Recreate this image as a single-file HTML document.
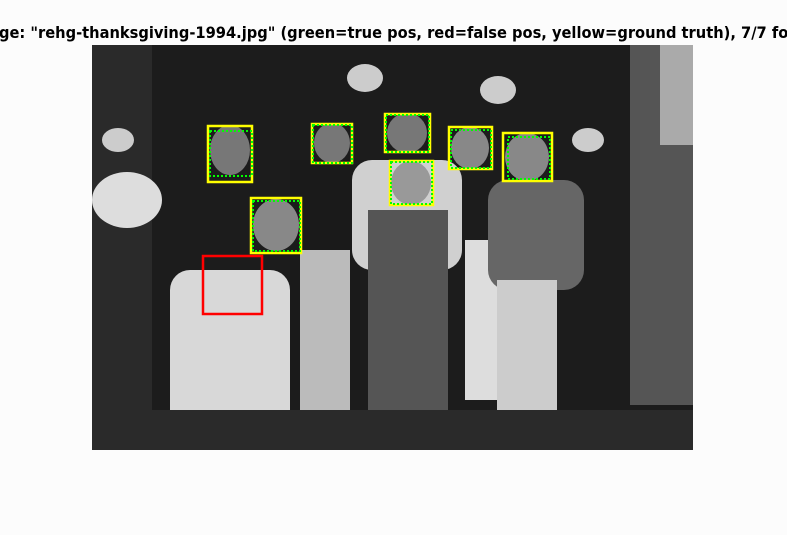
<!DOCTYPE html>
<html><head><meta charset="utf-8"><style>
body{margin:0;background:#fcfcfc;width:787px;height:535px;overflow:hidden;position:relative;font-family:"Liberation Sans","DejaVu Sans",sans-serif}
#title{position:absolute;left:394px;top:23px;transform:translateX(-50%);white-space:nowrap;font-weight:bold;font-size:16.3px;color:#000;font-family:"DejaVu Sans Condensed","DejaVu Sans",sans-serif}
</style></head><body>
<div id="title">Image: "rehg-thanksgiving-1994.jpg" (green=true pos, red=false pos, yellow=ground truth), 7/7 found</div>
<svg width="787" height="535" style="position:absolute;left:0;top:0">
<g>
<rect x="92" y="45" width="601" height="405" fill="#1c1c1c"/>
<rect x="92" y="45" width="60" height="405" fill="#2a2a2a"/>
<rect x="630" y="45" width="63" height="360" fill="#555"/>
<rect x="660" y="45" width="33" height="100" fill="#aaa"/>
<ellipse cx="127" cy="200" rx="35" ry="28" fill="#ddd"/>
<rect x="170" y="270" width="120" height="175" fill="#d8d8d8" rx="20"/>
<rect x="290" y="160" width="70" height="230" fill="#1a1a1a"/>
<rect x="300" y="250" width="50" height="160" fill="#bbb"/>
<rect x="352" y="160" width="110" height="110" fill="#d0d0d0" rx="20"/>
<rect x="368" y="210" width="80" height="230" fill="#555"/>
<rect x="465" y="240" width="40" height="160" fill="#ddd"/>
<rect x="488" y="180" width="96" height="110" fill="#666" rx="20"/>
<rect x="497" y="280" width="60" height="160" fill="#ccc"/>
<rect x="92" y="410" width="601" height="40" fill="#2a2a2a"/>
<ellipse cx="230" cy="150" rx="20" ry="25" fill="#777"/>
<ellipse cx="332" cy="143" rx="18" ry="20" fill="#777"/>
<ellipse cx="407" cy="133" rx="20" ry="20" fill="#777"/>
<ellipse cx="470" cy="148" rx="19" ry="21" fill="#888"/>
<ellipse cx="527" cy="157" rx="22" ry="24" fill="#888"/>
<ellipse cx="411" cy="183" rx="20" ry="22" fill="#999"/>
<ellipse cx="276" cy="225" rx="23" ry="26" fill="#888"/>
<ellipse cx="365" cy="78" rx="18" ry="14" fill="#ccc"/>
<ellipse cx="498" cy="90" rx="18" ry="14" fill="#ccc"/>
<ellipse cx="588" cy="140" rx="16" ry="12" fill="#ccc"/>
<ellipse cx="118" cy="140" rx="16" ry="12" fill="#ccc"/>
</g>
<g fill="none" stroke="#ffff00" stroke-width="2.5">
<rect x="208" y="126" width="44" height="56"/>
<rect x="312" y="124" width="40" height="39"/>
<rect x="385" y="114" width="45" height="38"/>
<rect x="449" y="127" width="43" height="42"/>
<rect x="503" y="133" width="49" height="48"/>
<rect x="390" y="161" width="43" height="44"/>
<rect x="251" y="198" width="50" height="55"/>
</g>
<g fill="none" stroke="#00ff00" stroke-width="2" stroke-dasharray="2,2">
<rect x="210" y="131" width="42" height="45"/>
<rect x="313" y="125" width="39" height="38"/>
<rect x="386" y="115" width="43" height="37"/>
<rect x="451" y="130" width="40" height="38"/>
<rect x="508" y="137" width="42" height="42"/>
<rect x="391" y="162" width="41" height="42"/>
<rect x="253" y="201" width="47" height="50"/>
</g>
<rect x="203" y="256" width="59" height="58" fill="none" stroke="#ff0000" stroke-width="2.5"/>
</svg>
</body></html>
